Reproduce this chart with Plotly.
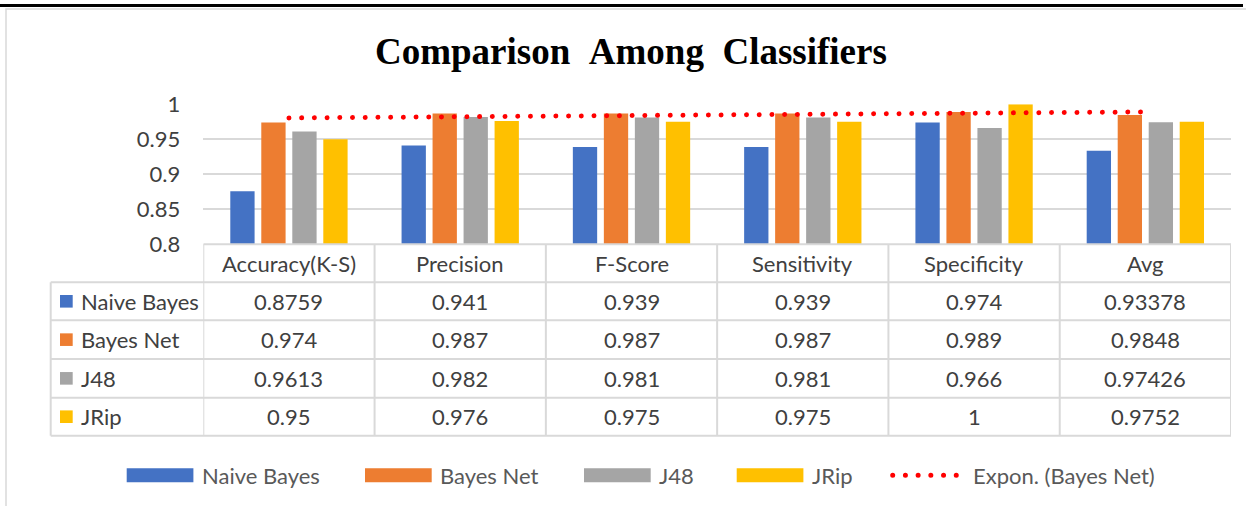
import numpy as np
import plotly.graph_objects as go

# ---------------- data ----------------
categories = ["Accuracy(K-S)", "Precision", "F-Score", "Sensitivity", "Specificity", "Avg"]
series_names = ["Naive Bayes", "Bayes Net", "J48", "JRip"]
naive_bayes = [0.8759, 0.941, 0.939, 0.939, 0.974, 0.93378]
bayes_net = [0.974, 0.987, 0.987, 0.987, 0.989, 0.9848]
j48 = [0.9613, 0.982, 0.981, 0.981, 0.966, 0.97426]
jrip = [0.95, 0.976, 0.975, 0.975, 1, 0.9752]
y_tick_vals = [0.8, 0.85, 0.9, 0.95, 1]
y_tick_text = ["0.8", "0.85", "0.9", "0.95", "1"]
trend_name = "Expon. (Bayes Net)"
title_text = "Comparison\u00a0\u00a0Among\u00a0\u00a0Classifiers"

series_values = [naive_bayes, bayes_net, j48, jrip]
colors = ["#4472C4", "#ED7D31", "#A5A5A5", "#FFC000"]

# ---------------- geometry helpers ----------------
W, H = 1246, 506
def px(x):
    return x / W
def py(y):
    return 1 - y / H

plot_left, plot_right = 203.3, 1231.0
plot_top, plot_bottom = 104.3, 244.3
row_edges = [244.3, 282.3, 320.3, 359.0, 397.7, 435.7]
left_col = 50.7
grid_col = "#D9D9D9"
text_col = "#404040"
font_family = "Lato"
fs = 22

xs = list(range(len(categories)))

fig = go.Figure()
for name, vals, c in zip(series_names, series_values, colors):
    fig.add_trace(go.Bar(x=xs, y=vals, name=name, marker=dict(color=c, line=dict(width=0)),
                         showlegend=False))

# exponential trendline fit on Bayes Net
xn = np.arange(1, len(bayes_net) + 1)
b, a = np.polyfit(xn, np.log(bayes_net), 1)
trend = np.exp(a + b * xn)
fig.add_trace(go.Scatter(x=xs, y=trend, mode="lines", name=trend_name, showlegend=False,
                         line=dict(color="#FF0000", width=5, dash="5px,7.7px")))

shapes = []
annotations = []

# outer frame
shapes.append(dict(type="rect", xref="paper", yref="paper", x0=px(6), x1=px(1260), y0=py(520), y1=py(9),
                   line=dict(color=grid_col, width=1.5), layer="below"))
shapes.append(dict(type="line", xref="paper", yref="paper", x0=px(0), x1=px(1243), y0=py(5.5), y1=py(5.5),
                   line=dict(color="#000000", width=3)))

# table: vertical lines at category boundaries
for i in range(len(categories) + 1):
    shapes.append(dict(type="line", xref="x", yref="paper", x0=i - 0.5, x1=i - 0.5,
                       y0=py(row_edges[-1]), y1=py(row_edges[0]), line=dict(color=grid_col, width=2)))
# left column vertical line
shapes.append(dict(type="line", xref="paper", yref="paper", x0=px(left_col), x1=px(left_col),
                   y0=py(row_edges[-1]), y1=py(row_edges[1]), line=dict(color=grid_col, width=2)))
# header top line
shapes.append(dict(type="line", xref="x", yref="paper", x0=-0.5, x1=len(categories) - 0.5,
                   y0=py(row_edges[0]), y1=py(row_edges[0]), line=dict(color=grid_col, width=2)))
for ye in row_edges[1:]:
    shapes.append(dict(type="line", xref="paper", yref="paper", x0=px(left_col), x1=px(plot_right),
                       y0=py(ye), y1=py(ye), line=dict(color=grid_col, width=2)))

# header texts
hc = (row_edges[0] + row_edges[1]) / 2
for i, cat in enumerate(categories):
    annotations.append(dict(x=i, y=py(hc), xref="x", yref="paper", text=cat, showarrow=False,
                            font=dict(family=font_family, size=fs, color=text_col),
                            xanchor="center", yanchor="middle"))

# body rows
for r, (name, vals, c) in enumerate(zip(series_names, series_values, colors)):
    yc = (row_edges[r + 1] + row_edges[r + 2]) / 2
    shapes.append(dict(type="rect", xref="paper", yref="paper", x0=px(60), x1=px(72.7),
                       y0=py(yc + 6.3), y1=py(yc - 6.3), fillcolor=c, line=dict(width=0)))
    annotations.append(dict(x=px(79), y=py(yc), xref="paper", yref="paper", text=name, showarrow=False,
                            font=dict(family=font_family, size=fs, color=text_col),
                            xanchor="left", yanchor="middle"))
    for i, v in enumerate(vals):
        annotations.append(dict(x=i, y=py(yc), xref="x", yref="paper", text=f"{v:g}", showarrow=False,
                                font=dict(family=font_family, size=fs, color=text_col),
                                xanchor="center", yanchor="middle"))

# bottom legend (custom)
leg_y = 475.3
leg_x = [126.7, 365.0, 584.0, 736.7]
for name, c, x0 in zip(series_names, colors, leg_x):
    shapes.append(dict(type="rect", xref="paper", yref="paper", x0=px(x0), x1=px(x0 + 66.7),
                       y0=py(leg_y + 7), y1=py(leg_y - 7), fillcolor=c, line=dict(width=0)))
    annotations.append(dict(x=px(x0 + 73), y=py(leg_y), xref="paper", yref="paper", text=name,
                            showarrow=False, font=dict(family=font_family, size=fs, color="#595959"),
                            xanchor="left", yanchor="middle"))
shapes.append(dict(type="line", xref="paper", yref="paper", x0=px(892.7), x1=px(966), y0=py(leg_y), y1=py(leg_y),
                   line=dict(color="#FF0000", width=5, dash="5px,7.7px")))
annotations.append(dict(x=px(971), y=py(leg_y), xref="paper", yref="paper", text=trend_name,
                        showarrow=False, font=dict(family=font_family, size=fs, color="#595959"),
                        xanchor="left", yanchor="middle"))

# title
annotations.append(dict(x=px(631), y=py(52), xref="paper", yref="paper", text="<b>" + title_text + "</b>",
                        showarrow=False, font=dict(family="Liberation Serif", size=37, color="#000000"),
                        xanchor="center", yanchor="middle"))

fig.update_layout(
    width=W, height=H,
    margin=dict(l=0, r=0, t=0, b=0, pad=0),
    paper_bgcolor="white", plot_bgcolor="white",
    barmode="group", bargap=0.276, bargroupgap=0.216,
    xaxis=dict(domain=[px(plot_left), px(plot_right)], range=[-0.5, len(categories) - 0.5],
               showticklabels=False, showgrid=False, zeroline=False, showline=False, ticks="",
               automargin=False, fixedrange=True),
    yaxis=dict(domain=[py(plot_bottom), py(plot_top)], range=[0.8, 1.0],
               tickvals=y_tick_vals, ticktext=y_tick_text, showgrid=True, gridcolor=grid_col, gridwidth=1.5,
               zeroline=False, showline=False, ticks="", ticklabelstandoff=22, automargin=False,
               fixedrange=True, tickfont=dict(family=font_family, size=fs, color=text_col)),
    shapes=shapes, annotations=annotations, showlegend=False,
)

# round dotted red lines (Excel-style round dots)
post = """
document.body.style.margin='0';
document.querySelectorAll('path').forEach(function(p){
  var s = (p.style.stroke || '').replace(/\\s/g,'');
  if (s === 'rgb(255,0,0)') {
    p.style.strokeLinecap = 'round';
    p.style.strokeDasharray = '0.01px,12.7px';
  }
});
"""
fig.write_html("out.html", config={"displayModeBar": False}, post_script=post)
